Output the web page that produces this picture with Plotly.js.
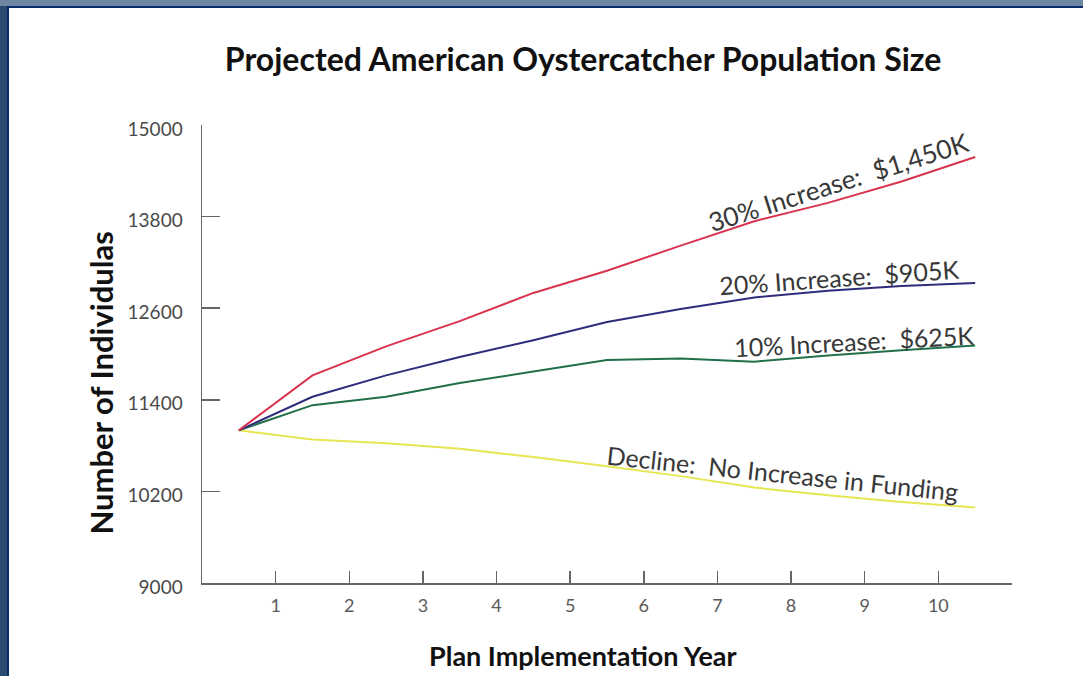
<!DOCTYPE html>
<html>
<head>
<meta charset="utf-8">
<script src="https://cdn.plot.ly/plotly-3.0.1.min.js"></script>
<style>
  html, body { margin: 0; padding: 0; width: 1083px; height: 676px; overflow: hidden; background: #2b4a72; }
  #topband { position: absolute; left: 0; top: 0; width: 1083px; height: 6px; background: #6f87a2; }
  #frame { position: absolute; left: 7px; top: 6px; width: 1076px; height: 670px; background: #0b2c6b; }
  #chart { position: absolute; left: 9px; top: 8px; width: 1074px; height: 668px; background: #ffffff; }
</style>
</head>
<body>
<div id="topband"></div>
<div id="frame"></div>
<div id="chart"></div>
<script>
// Plan implementation year (points sit midway between the year ticks)
const years = [0.5, 1.5, 2.5, 3.5, 4.5, 5.5, 6.5, 7.5, 8.5, 9.5, 10.5];

// Projected population sizes
const increase30 = [11000, 11720, 12100, 12430, 12800, 13090, 13420, 13740, 13980, 14260, 14580];
const increase20 = [11000, 11440, 11720, 11960, 12180, 12420, 12590, 12740, 12830, 12890, 12930];
const increase10 = [11000, 11330, 11440, 11620, 11770, 11920, 11940, 11900, 11980, 12050, 12110];
const decline    = [11000, 10880, 10830, 10760, 10650, 10530, 10400, 10250, 10150, 10060, 9990];

const seriesLabels = ['30% Increase:  $1,450K', '20% Increase:  $905K', '10% Increase:  $625K', 'Decline:  No Increase in Funding'];

// Axis ticks
const xTickVals = [1, 2, 3, 4, 5, 6, 7, 8, 9, 10, 11];
const xTickText = ['1', '2', '3', '4', '5', '6', '7', '8', '9', '10', ''];
const yTickVals = [9000, 10200, 11400, 12600, 13800, 15000];
const yTickText = ['9000', '10200', '11400', '12600', '13800', '15000'];

const FONT = 'Lato, "Open Sans", sans-serif';

function line(y, color) {
  return { x: years, y: y, type: 'scatter', mode: 'lines',
           line: { color: color, width: 2 }, hoverinfo: 'skip', showlegend: false };
}

const data = [
  line(decline, '#e6e655'),
  line(increase10, '#21704a'),
  line(increase20, '#2f2c7c'),
  line(increase30, '#d9334f')
];

const labelFont = { family: FONT, size: 25, color: '#383838' };

const layout = {
  width: 1074, height: 668,
  paper_bgcolor: '#ffffff', plot_bgcolor: '#ffffff',
  margin: { l: 192.5, r: 71, t: 117, b: 93 },
  showlegend: false,
  title: { text: 'Projected American Oystercatcher Population Size',
           x: 0.5345, xref: 'container', xanchor: 'center',
           y: 0.922, yref: 'container', yanchor: 'middle',
           font: { family: FONT, size: 32, color: '#111111', weight: 'bold' } },
  xaxis: {
    range: [0, 11], tickmode: 'array', tickvals: xTickVals, ticktext: xTickText,
    ticks: 'inside', ticklen: 12, tickwidth: 1.5, tickcolor: '#666666',
    showline: true, linecolor: '#666666', linewidth: 1.5,
    showgrid: false, zeroline: false,
    ticklabelstandoff: 6,
    tickfont: { family: FONT, size: 18, color: '#5a5a5a' }
  },
  yaxis: {
    range: [9000, 15000], tickmode: 'array', tickvals: yTickVals, ticktext: yTickText,
    ticks: 'inside', ticklen: 18, tickwidth: 1.5, tickcolor: '#666666',
    showline: true, linecolor: '#666666', linewidth: 1.5,
    showgrid: false, zeroline: false,
    ticklabelstandoff: 14, ticklabelshift: 4,
    tickfont: { family: FONT, size: 19, color: '#4a4a4a' }
  },
  annotations: [
    { text: 'Plan Implementation Year', xref: 'paper', yref: 'paper', x: 0.4707, y: -0.159,
      xanchor: 'center', yanchor: 'middle', showarrow: false,
      font: { family: FONT, size: 27, color: '#111111', weight: 'bold' } },
    { text: 'Number of Individulas', xref: 'paper', yref: 'paper', x: -0.1252, y: 0.4367,
      xanchor: 'center', yanchor: 'middle', showarrow: false, textangle: -90,
      font: { family: FONT, size: 31, color: '#111111', weight: 'bold' } },
    { text: seriesLabels[0], x: 8.64, y: 14250, xref: 'x', yref: 'y', showarrow: false,
      textangle: -17.5, font: { family: FONT, size: 26, color: '#383838' } },
    { text: seriesLabels[1], x: 8.65, y: 13010, xref: 'x', yref: 'y', showarrow: false,
      textangle: -4, font: labelFont },
    { text: seriesLabels[2], x: 8.85, y: 12170, xref: 'x', yref: 'y', showarrow: false,
      textangle: -3, font: labelFont },
    { text: seriesLabels[3], x: 7.88, y: 10440, xref: 'x', yref: 'y', showarrow: false,
      textangle: 6, font: labelFont }
  ]
};

Plotly.newPlot('chart', data, layout, { displayModeBar: false, staticPlot: true });
</script>
</body>
</html>
